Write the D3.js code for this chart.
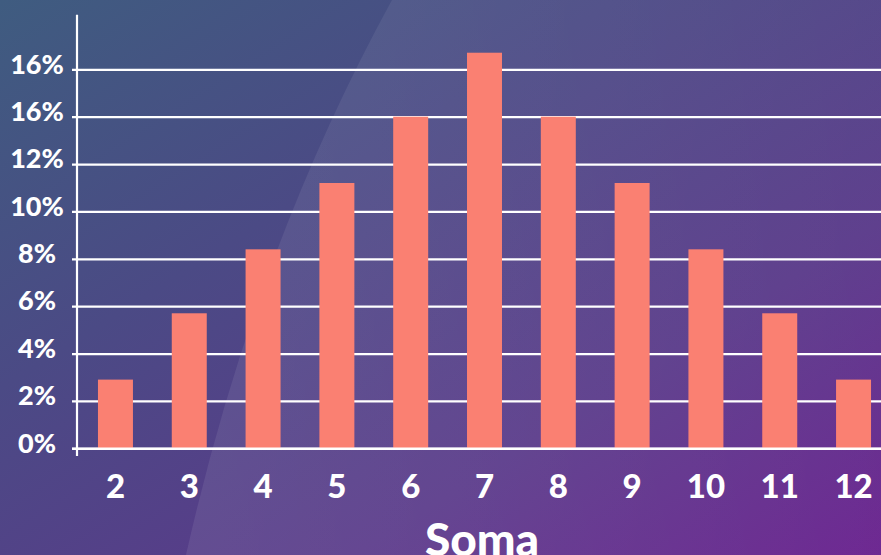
<!DOCTYPE html>
<html>
<head>
<meta charset="utf-8">
<script src="https://cdn.jsdelivr.net/npm/d3@7"></script>
<style>
  html, body { margin: 0; padding: 0; background: #4a4a86; }
  svg { display: block; }
  text { font-family: Lato, "Open Sans", sans-serif; font-weight: 900; fill: #ffffff; }
</style>
</head>
<body>
<svg id="chart" width="881" height="555"></svg>
<script>
// ---- data ----
const categories = ["2", "3", "4", "5", "6", "7", "8", "9", "10", "11", "12"];
const probability = [2.9, 5.7, 8.4, 11.2, 14.0, 16.7, 14.0, 11.2, 8.4, 5.7, 2.9]; // percent
const tickValues = [0, 2, 4, 6, 8, 10, 12, 14, 16];
const tickLabels = ["0%", "2%", "4%", "6%", "8%", "10%", "12%", "16%", "16%"];
const xTitle = "Soma";

// ---- setup ----
const W = 881, H = 555;
const svg = d3.select("#chart");
const defs = svg.append("defs");

const bg = defs.append("linearGradient").attr("id", "bg")
  .attr("x1", "0").attr("y1", "0").attr("x2", "1").attr("y2", "1");
bg.append("stop").attr("offset", "0%").attr("stop-color", "#3f5c80");
bg.append("stop").attr("offset", "35%").attr("stop-color", "#4b4a85");
bg.append("stop").attr("offset", "70%").attr("stop-color", "#5a3a8a");
bg.append("stop").attr("offset", "100%").attr("stop-color", "#6a228f");

const sheen = defs.append("linearGradient").attr("id", "sheen")
  .attr("x1", "0").attr("y1", "0").attr("x2", "1").attr("y2", "0");
sheen.append("stop").attr("offset", "0%").attr("stop-color", "#ffffff").attr("stop-opacity", 0.08);
sheen.append("stop").attr("offset", "100%").attr("stop-color", "#ffffff").attr("stop-opacity", 0.03);

svg.append("rect").attr("width", W).attr("height", H).attr("fill", "url(#bg)");
svg.append("path")
  .attr("d", "M392,0 Q255,250 186,555 L881,555 L881,0 Z")
  .attr("fill", "url(#sheen)");

// ---- scales ----
const axisX = 77;
const y = d3.scaleLinear().domain([0, 16]).range([448.3, 69.3]);
const x = d3.scaleBand().domain(categories).range([77, 892])
  .paddingInner(0.526).paddingOuter(0.284);

// ---- gridlines / y axis ----
const tickStart = 72;
const yAxis = d3.axisLeft(y)
  .tickValues(tickValues)
  .tickSize(-(W - tickStart))
  .tickFormat((d, i) => tickLabels[i]);

const gy = svg.append("g").attr("transform", `translate(${tickStart},0)`).call(yAxis);
gy.select(".domain").remove();
gy.selectAll(".tick line").attr("stroke", "#ffffff").attr("stroke-width", 2.2);
gy.selectAll(".tick text")
  .attr("x", 37 - tickStart)
  .attr("dy", null)
  .attr("y", 3.8)
  .attr("text-anchor", "middle")
  .style("font-size", "27px")
  .style("font-family", "Lato, 'Open Sans', sans-serif")
  .style("font-weight", 900)
  .attr("fill", "#ffffff");

// ---- bars ----
svg.append("g").selectAll("rect")
  .data(probability)
  .join("rect")
  .attr("x", (d, i) => x(categories[i]))
  .attr("width", x.bandwidth())
  .attr("y", d => y(d))
  .attr("height", d => y(0) - y(d))
  .attr("fill", "#fa8072");

// zero line on top of bars
svg.append("line")
  .attr("x1", tickStart).attr("x2", W)
  .attr("y1", y(0) + 0.4).attr("y2", y(0) + 0.4)
  .attr("stroke", "#ffffff").attr("stroke-width", 2.2);

// vertical axis line
svg.append("line")
  .attr("x1", axisX).attr("x2", axisX)
  .attr("y1", 14.7).attr("y2", 456)
  .attr("stroke", "#ffffff").attr("stroke-width", 2.2);

// ---- x axis labels ----
const xAxis = d3.axisBottom(x).tickSize(0).tickPadding(0);
const gx = svg.append("g").attr("transform", `translate(0,${y(0)})`).call(xAxis);
gx.select(".domain").remove();
gx.selectAll(".tick text")
  .attr("dy", null)
  .attr("y", 498 - y(0))
  .attr("text-anchor", "middle")
  .style("font-size", "33px")
  .style("font-family", "Lato, 'Open Sans', sans-serif")
  .style("font-weight", 900)
  .attr("fill", "#ffffff");

// ---- x title ----
svg.append("text")
  .attr("x", 482).attr("y", 556)
  .attr("text-anchor", "middle")
  .style("font-size", "46px")
  .text(xTitle);
</script>
</body>
</html>
